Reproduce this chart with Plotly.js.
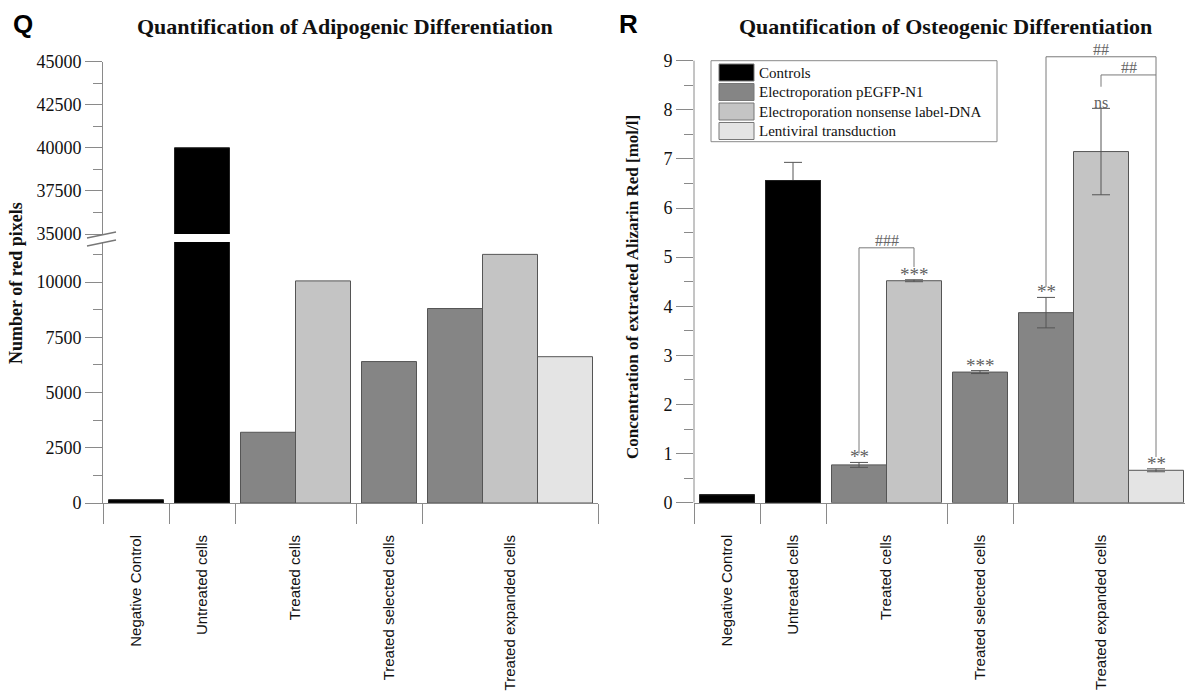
<!DOCTYPE html>
<html><head><meta charset="utf-8">
<script src="https://cdn.plot.ly/plotly-3.0.1.min.js"></script>
<style>html,body{margin:0;padding:0;background:#fff}</style>
</head><body><div id="chart" style="width:1185px;height:691px"></div>
<script>
// ---------- data ----------
const categories = ["Negative Control", "Untreated cells", "Treated cells", "Treated selected cells", "Treated expanded cells"];
const seriesNames = ["Controls", "Electroporation pEGFP-N1", "Electroporation nonsense label-DNA", "Lentiviral transduction"];
const seriesColors = ["#000000", "#858585", "#c4c4c4", "#e4e4e4"];

// Q: Adipogenic differentiation (number of red pixels), per category
const adipoControls = [150, 40000, null, null, null];
const adipoPEGFP    = [null, null, 3200, 6400, 8800];
const adipoNonsense = [null, null, 10050, null, 11250];
const adipoLenti    = [null, null, null, null, 6620];

// R: Osteogenic differentiation (Alizarin Red, mol/l), per category
const osteoControls    = [0.16, 6.56, null, null, null];
const osteoControlsErr = [0, 0.37, null, null, null];
const osteoPEGFP       = [null, null, 0.77, 2.66, 3.87];
const osteoPEGFPErr    = [null, null, 0.05, 0.03, 0.31];
const osteoNonsense    = [null, null, 4.52, null, 7.15];
const osteoNonsenseErr = [null, null, 0.02, null, 0.88];
const osteoLenti       = [null, null, null, null, 0.66];
const osteoLentiErr    = [null, null, null, null, 0.03];

// tick labels
const qLowTicks  = [0, 2500, 5000, 7500, 10000];
const qLowMinor  = [1250, 3750, 6250, 8750, 11250];
const qHighTicks = [35000, 37500, 40000, 42500, 45000];
const qHighMinor = [36250, 38750, 41250, 43750];
const rTicks     = [0, 1, 2, 3, 4, 5, 6, 7, 8, 9];
const rMinor     = [0.5, 1.5, 2.5, 3.5, 4.5, 5.5, 6.5, 7.5, 8.5];

// significance marks (R): category index, series index, text
const sigCat    = [2, 2, 3, 4, 4, 4];
const sigSeries = [1, 2, 1, 1, 2, 3];
const sigText   = ["**", "***", "***", "**", "ns", "**"];

// brackets (R)
const brFromCat = [2, 4, 4], brFromSer = [1, 1, 2];
const brToCat   = [2, 4, 4], brToSer   = [2, 3, 3];
const brTop     = [5.19, 9.08, 8.71];
const brLeftBottom  = [1.0, 4.39, 8.47];
const brRightBottom = [4.80, 0.93, null];
const brText    = ["###", "##", "##"];

// ---------- layout helpers ----------
const W = 1185, H = 691;
const px = x => x / W;
const py = y => 1 - y / H;
const PAD = 0.1;
function positions(seriesArrays) {
  let s = 0; const bounds = [0], centers = [], pos = categories.map(() => ({}));
  categories.forEach((c, k) => {
    const present = seriesArrays.map((a, i) => a[k] != null ? i : -1).filter(i => i >= 0);
    present.forEach((i, j) => { pos[k][i] = s + PAD + j + 0.5; });
    const w = present.length + 2 * PAD;
    centers.push(s + w / 2);
    s += w; bounds.push(s);
  });
  return { pos, bounds, centers };
}
const qSeries = [adipoControls, adipoPEGFP, adipoNonsense, adipoLenti];
const rSeries = [osteoControls, osteoPEGFP, osteoNonsense, osteoLenti];
const rErrs = [osteoControlsErr, osteoPEGFPErr, osteoNonsenseErr, osteoLentiErr];
const Q = positions(qSeries), R = positions(rSeries);

const axisCol = "#8a8a8a", barLine = "#555555";
const traces = [];
qSeries.forEach((arr, i) => {
  const xs = [], ys = [];
  arr.forEach((v, k) => { if (v != null) { xs.push(Q.pos[k][i]); ys.push(v); } });
  ["y", "y3"].forEach(ya => traces.push({
    type: "bar", x: xs, y: ys, width: 1, xaxis: "x", yaxis: ya, name: seriesNames[i],
    showlegend: false, marker: { color: seriesColors[i], line: { color: i === 0 ? "#222" : barLine, width: 1 } }
  }));
});
rSeries.forEach((arr, i) => {
  const xs = [], ys = [], es = [];
  arr.forEach((v, k) => { if (v != null) { xs.push(R.pos[k][i]); ys.push(v); es.push(rErrs[i][k]); } });
  traces.push({
    type: "bar", x: xs, y: ys, width: 1, xaxis: "x2", yaxis: "y2", name: seriesNames[i],
    showlegend: false, marker: { color: seriesColors[i], line: { color: i === 0 ? "#222" : barLine, width: 1 } },
    error_y: { type: "data", array: es, visible: true, color: "#555", thickness: 1, width: 9 }
  });
  if (i === 0) {
    // black bars drawn again on top: the lower whisker disappears into the black bar
    traces.push({
      type: "bar", x: xs, y: ys, width: 1, xaxis: "x2", yaxis: "y2", name: seriesNames[i],
      showlegend: false, marker: { color: seriesColors[i], line: { color: "#222", width: 1 } }
    });
  }
});

const serif = "Liberation Serif, Times New Roman, serif";
const sans = "Liberation Sans, Arial, sans-serif";
const xDomQ = [px(103), px(598)];
const xDomR = [px(694), 1];
const xLen = 495 / 9; // px per unit
function xAxis(P, dom, range, anchor) {
  return {
    domain: dom, range: range, anchor: anchor, showline: true, linecolor: axisCol, linewidth: 1,
    tickmode: "array", tickvals: P.centers, ticktext: categories, tickangle: -90, ticks: "",
    ticklabelstandoff: 25, tickfont: { family: sans, size: 15, color: "#111" },
    minor: { tickmode: "array", tickvals: P.bounds, ticks: "outside", ticklen: 20, tickcolor: axisCol, tickwidth: 1 },
    showgrid: false, zeroline: false, fixedrange: true
  };
}
function yAxis(dom, range, anchor, tv, mv, showline) {
  return {
    domain: dom, range: range, anchor: anchor, showline: showline, linecolor: axisCol, linewidth: 1,
    tickmode: "array", tickvals: tv, ticktext: tv.map(String), ticks: "outside", ticklen: 17,
    tickcolor: axisCol, tickwidth: 1, tickfont: { family: serif, size: 18, color: "#111" },
    minor: { tickmode: "array", tickvals: mv, ticks: "outside", ticklen: 9, tickcolor: axisCol, tickwidth: 1 },
    showgrid: false, zeroline: false, fixedrange: true
  };
}
const rTop = 9.1;
const layout = {
  width: W, height: H, margin: { l: 0, r: 0, t: 0, b: 0 }, autosize: false,
  paper_bgcolor: "#fff", plot_bgcolor: "rgba(0,0,0,0)", barmode: "overlay", showlegend: false,
  xaxis: xAxis(Q, xDomQ, [0, Q.bounds[Q.bounds.length - 1]], "y"),
  yaxis: yAxis([py(503), py(242)], [0, 11810], "x", qLowTicks, qLowMinor, true),
  yaxis3: yAxis([py(234), py(61.5)], [35000, 45000], "x", qHighTicks, qHighMinor, true),
  xaxis2: xAxis(R, xDomR, [0, (W - 694) / xLen], "y2"),
  yaxis2: yAxis([py(502.7), py(502.7 - rTop * 49.11)], [0, rTop], "x2", rTicks, rMinor, false),
  shapes: [], annotations: []
};

// right y axis line from 0 to 9 only
layout.shapes.push({ type: "line", xref: "paper", yref: "y2", x0: xDomR[0], x1: xDomR[0], y0: 0, y1: 9, line: { color: axisCol, width: 1 } });
// axis break marks (Q)
[[238, 232], [246, 240]].forEach(([a, b]) => layout.shapes.push({
  type: "line", xref: "paper", yref: "paper", x0: px(87), y0: py(a), x1: px(116), y1: py(b), line: { color: "#777", width: 1.3 }
}));

// brackets
const bc = "#7a7a7a";
brText.forEach((t, i) => {
  const xl = R.pos[brFromCat[i]][brFromSer[i]], xr = R.pos[brToCat[i]][brToSer[i]];
  const seg = (x0, y0, x1, y1) => layout.shapes.push({ type: "line", xref: "x2", yref: "y2", x0, y0, x1, y1, line: { color: bc, width: 1 } });
  seg(xl, brLeftBottom[i], xl, brTop[i]);
  seg(xl, brTop[i], xr, brTop[i]);
  if (brRightBottom[i] != null) seg(xr, brRightBottom[i], xr, brTop[i]);
  layout.annotations.push({ xref: "x2", yref: "y2", x: (xl + xr) / 2, y: brTop[i], text: t, showarrow: false,
    xanchor: "center", yanchor: "bottom", yshift: -3, font: { family: serif, size: 16, color: "#666" } });
});
// significance marks
sigText.forEach((t, i) => {
  const k = sigCat[i], s = sigSeries[i];
  layout.annotations.push({ xref: "x2", yref: "y2", x: R.pos[k][s], y: rSeries[s][k] + rErrs[s][k], text: t, showarrow: false,
    xanchor: "center", yanchor: "bottom", yshift: t === "ns" ? -5 : -7, font: { family: serif, size: t === "ns" ? 16 : 19, color: "#5f5f5f" } });
});

// legend (R)
layout.shapes.push({ type: "rect", xref: "paper", yref: "paper", x0: px(711), x1: px(997), y0: py(60.7), y1: py(141.7), line: { color: "#8a8a8a", width: 1 }, fillcolor: "#fff" });
seriesNames.forEach((n, i) => {
  const cy = 72.5 + i * 19.5;
  layout.shapes.push({ type: "rect", xref: "paper", yref: "paper", x0: px(719), x1: px(754), y0: py(cy + 8.5), y1: py(cy - 8.5), line: { color: "#777", width: 1 }, fillcolor: seriesColors[i] });
  layout.annotations.push({ xref: "paper", yref: "paper", x: px(757), y: py(cy), xanchor: "left", yanchor: "middle", text: n, showarrow: false, font: { family: serif, size: 15, color: "#111" } });
});

// titles and labels
const ann = (x, y, text, font, extra) => layout.annotations.push(Object.assign({ xref: "paper", yref: "paper", x: px(x), y: py(y), text, showarrow: false, xanchor: "center", yanchor: "middle", font }, extra || {}));
ann(11, 24, "<b>Q</b>", { family: sans, size: 26, color: "#000" }, { xanchor: "left" });
ann(617, 24, "<b>R</b>", { family: sans, size: 26, color: "#000" }, { xanchor: "left" });
ann(345, 26, "<b>Quantification of Adipogenic Differentiation</b>", { family: serif, size: 22, color: "#111" });
ann(945, 26, "<b>Quantification of Osteogenic Differentiation</b>", { family: serif, size: 22, color: "#111" });
ann(16, 283, "<b>Number of red pixels</b>", { family: serif, size: 18, color: "#111" }, { textangle: -90 });
ann(632, 287, "<b>Concentration of extracted Alizarin Red [mol/l]</b>", { family: serif, size: 17, color: "#111" }, { textangle: -90 });

Plotly.newPlot("chart", traces, layout, { staticPlot: true, displayModeBar: false });
</script></body></html>
